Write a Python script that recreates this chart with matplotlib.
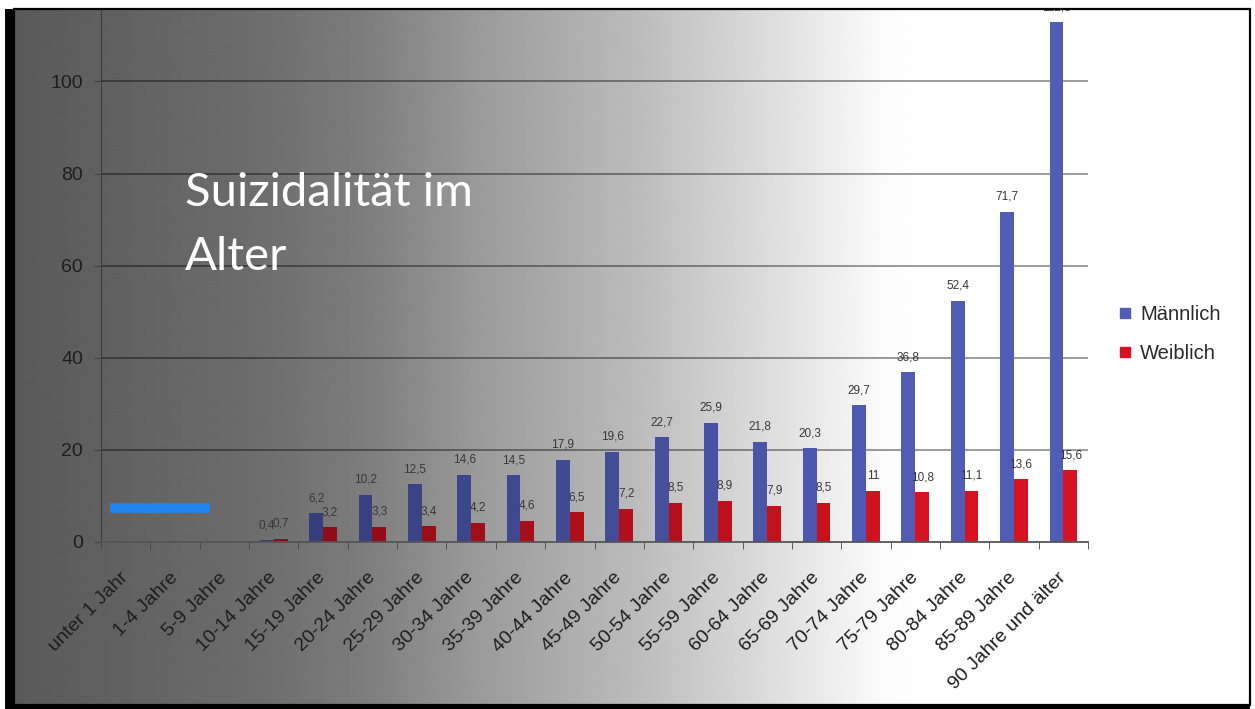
import numpy as np
import matplotlib
matplotlib.use("Agg")
import matplotlib.pyplot as plt
from matplotlib import transforms
from matplotlib.lines import Line2D
from matplotlib.patches import Rectangle

# data (Suizide je 100.000 Einwohner)
age_groups = ["unter 1 Jahr", "1-4 Jahre", "5-9 Jahre", "10-14 Jahre", "15-19 Jahre",
              "20-24 Jahre", "25-29 Jahre", "30-34 Jahre", "35-39 Jahre", "40-44 Jahre",
              "45-49 Jahre", "50-54 Jahre", "55-59 Jahre", "60-64 Jahre", "65-69 Jahre",
              "70-74 Jahre", "75-79 Jahre", "80-84 Jahre", "85-89 Jahre", "90 Jahre und älter"]
maennlich = [np.nan, np.nan, np.nan, 0.4, 6.2, 10.2, 12.5, 14.6, 14.5, 17.9,
             19.6, 22.7, 25.9, 21.8, 20.3, 29.7, 36.8, 52.4, 71.7, 112.8]
weiblich = [np.nan, np.nan, np.nan, 0.7, 3.2, 3.3, 3.4, 4.2, 4.6, 6.5,
            7.2, 8.5, 8.9, 7.9, 8.5, 11, 10.8, 11.1, 13.6, 15.6]
y_ticks = [0, 20, 40, 60, 80, 100]

# blue marker stroke drawn on the slide
marker_x = [-0.32, 1.71]
marker_y = [7.4, 7.4]

W, H = 1255, 709
fig = plt.figure(figsize=(W / 100, H / 100), dpi=100)

# slide background: grey to white, left to right
stops_x = [0, 15, 100, 250, 360, 480, 640, 800, 880, 920, W]
stops_g = [90, 90, 96, 108, 124, 155, 188, 229, 250, 255, 255]
shade = np.interp(np.arange(W), stops_x, stops_g)
bg = fig.add_axes([0, 0, 1, 1], zorder=-1)
bg.imshow(np.tile(shade, (2, 1)), cmap="gray", vmin=0, vmax=255,
          extent=[0, W, 0, H], aspect="auto", interpolation="bilinear")
bg.set_xlim(0, W)
bg.set_ylim(0, H)
bg.axis("off")

left_px, right_px, zero_px, top_px = 101, 1088, 542, 10
ax = fig.add_axes([left_px / W, 1 - zero_px / H, (right_px - left_px) / W, (zero_px - top_px) / H])
ax.set_facecolor("none")

n = len(age_groups)
x = np.arange(n)
bw = 0.28
cat_px = left_px + (x + 0.5) * (right_px - left_px) / n
fade = 0.4 + 0.6 * np.interp(cat_px, stops_x, stops_g) / 255
blue = np.array([80, 92, 182]) / 255
red = np.array([212, 18, 32]) / 255
blue_cols = [tuple(blue * f) for f in fade]
red_cols = [tuple(red * f) for f in fade]

ax.bar(x - bw / 2, maennlich, bw, color=blue_cols, zorder=2)
ax.bar(x + bw / 2, weiblich, bw, color=red_cols, zorder=2)

lift = transforms.offset_copy(ax.transData, fig=fig, y=6.5, units="points")
for xs, vals in ((x - bw / 2, maennlich), (x + bw / 2, weiblich)):
    for xi, v in zip(xs, vals):
        if np.isnan(v):
            continue
        t = ax.text(xi, v, f"{v:g}".replace(".", ","), transform=lift, ha="center", va="bottom",
                    fontsize=8.5, color="#383838", family="Liberation Sans", zorder=3)
        t.set_clip_box(ax.bbox)
        t.set_clip_on(True)

ax.plot(marker_x, marker_y, color="#1f86f0", linewidth=7, solid_capstyle="butt", zorder=3)

ax.set_xlim(-0.5, n - 0.5)
ax.set_ylim(0, 115.5)
ax.set_yticks(y_ticks)
ax.set_yticklabels([str(t) for t in y_ticks], fontsize=14, color="#1e1e1e", family="Liberation Sans")
for t in y_ticks[1:]:
    ax.axhline(t, color="black", alpha=0.42, linewidth=1.3, zorder=1)

ax.set_xticks(x)
ax.set_xticklabels(age_groups, rotation=45, ha="right", va="center", rotation_mode="anchor",
                   fontsize=14, color="#1e1e1e", family="Liberation Sans")
ax.tick_params(axis="x", which="major", length=0, pad=24)
ax.set_xticks(np.arange(-0.5, n), minor=True)
ax.tick_params(axis="x", which="minor", length=5, direction="out", color="#444444")
ax.tick_params(axis="y", length=5, direction="out", color="#444444", pad=8)

for s in ("top", "right"):
    ax.spines[s].set_visible(False)
ax.spines["left"].set_color("#3c3c3c")
ax.spines["bottom"].set_color("#555555")
ax.spines["bottom"].set_linewidth(1.3)

handles = [Line2D([], [], marker="s", linestyle="none", markersize=7, color=tuple(blue)),
           Line2D([], [], marker="s", linestyle="none", markersize=7, color=tuple(red))]
fig.legend(handles, ["Männlich", "Weiblich"], loc="center left",
           bbox_to_anchor=(1118 / W, 1 - 334 / H), bbox_transform=fig.transFigure,
           frameon=False, labelspacing=1.0, handlelength=0.7,
           handletextpad=0.4, borderpad=0, borderaxespad=0,
           prop={"family": "Liberation Sans", "size": 14.5}, labelcolor="#2a2a2a")

# slide title
fig.text(185 / W, 1 - 206 / H, "Suizidalität im", color="white", fontsize=34,
         family="Lato", va="baseline", ha="left")
fig.text(185 / W, 1 - 270 / H, "Alter", color="white", fontsize=34,
         family="Lato", va="baseline", ha="left")

# white margins of the screenshot, then its black frame
for rx, ry, rw, rh in ((0, 1 - 9 / H, 1, 9 / H), (0, 0, 5 / W, 1), (1 - 3 / W, 0, 3 / W, 1)):
    fig.patches.append(Rectangle((rx, ry), rw, rh, transform=fig.transFigure,
                                 facecolor="white", edgecolor="none", zorder=4))
fig.patches.append(Rectangle((14 / W, 1 - 705 / H), (1250 - 14) / W, (705 - 9) / H,
                             transform=fig.transFigure, fill=False, edgecolor="black",
                             linewidth=1.6, zorder=5))
fig.patches.append(Rectangle((5 / W, 0), 10 / W, 1 - 9 / H, transform=fig.transFigure,
                             facecolor="black", edgecolor="none", zorder=5))
fig.patches.append(Rectangle((5 / W, 0), (1250 - 5) / W, 4 / H, transform=fig.transFigure,
                             facecolor="black", edgecolor="none", zorder=5))

fig.savefig("out.png", dpi=100)
